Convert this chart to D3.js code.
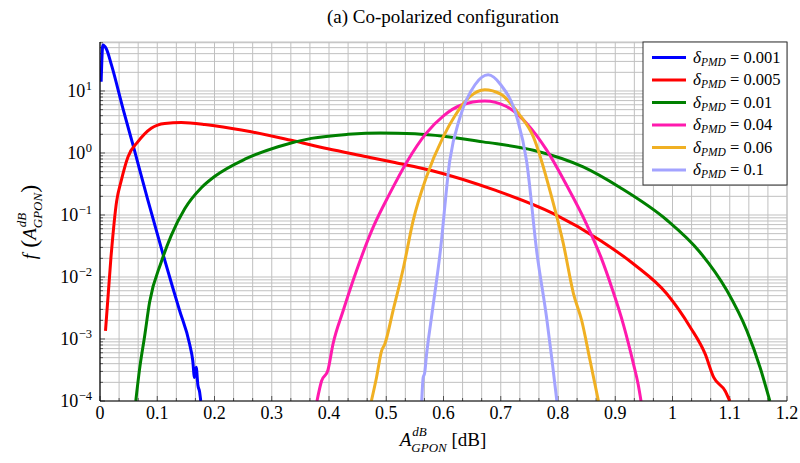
<!DOCTYPE html>
<html>
<head>
<meta charset="UTF-8">
<script src="https://d3js.org/d3.v7.min.js"></script>
<style>
  body { margin: 0; background: #fff; }
</style>
</head>
<body>
<svg id="chart" width="800" height="463" font-family="'Liberation Serif', 'Times New Roman', serif"></svg>
<script>
// values (x in dB, f on a log axis)
const deltas = ["0.001", "0.005", "0.01", "0.04", "0.06", "0.1"];
const colors = ["#0000ff", "#ff0000", "#008000", "#ff1aae", "#f0b023", "#a3a3ff"];

const blue = [[0.002,14.1],[0.005,55],[0.011,47.9],[0.02,26.3],[0.04,5.25],[0.06,1.12],[0.0836,0.174],
  [0.11,0.0234],[0.127,0.00676],[0.139,0.00288],[0.1565,8.3e-4],[0.162,4.5e-4],[0.165,2.4e-4],
  [0.168,3.5e-4],[0.171,1.8e-4],[0.174,1.4e-4],[0.176,1e-4]];
const red = [[0.0096,1.35e-3],[0.019,0.02],[0.029,0.166],[0.037,0.355],[0.049,0.87],[0.066,1.51],
  [0.0895,2.51],[0.113,3.0],[0.142,3.09],[0.183,2.88],[0.2,2.75],[0.264,2.2],[0.334,1.6],[0.398,1.17],
  [0.466,0.87],[0.515,0.70],[0.582,0.513],[0.69,0.251],[0.792,0.105],[0.874,0.0389],[0.932,0.0162],
  [0.99,0.00537],[1.031,0.00155],[1.057,5.75e-4],[1.072,2.4e-4],[1.092,1.45e-4],[1.1,1e-4]];
const green = [[0.0625,1e-4],[0.069,3.2e-4],[0.078,1.12e-3],[0.0866,3.9e-3],[0.107,0.0174],[0.1245,0.0468],
  [0.148,0.126],[0.177,0.275],[0.2,0.417],[0.253,0.794],[0.311,1.26],[0.369,1.72],[0.433,2.0],[0.49,2.11],
  [0.55,2.04],[0.6,1.86],[0.669,1.51],[0.757,1.11],[0.844,0.596],[0.909,0.275],[0.99,0.083],
  [1.048,0.0251],[1.095,0.00603],[1.13,0.00135],[1.153,3.47e-4],[1.17,1e-4]];
const pink = [[0.379,1e-4],[0.387,2.1e-4],[0.398,3.1e-4],[0.407,8.3e-4],[0.425,2.9e-3],[0.448,0.0126],
  [0.477,0.063],[0.506,0.221],[0.536,0.718],[0.57,2.09],[0.6,3.98],[0.63,5.89],[0.672,6.92],[0.71,5.62],
  [0.745,3.02],[0.78,1.12],[0.815,0.302],[0.85,0.0708],[0.875,0.0209],[0.895,0.0063],[0.914,1.74e-3],
  [0.932,3.9e-4],[0.94,1.86e-4],[0.945,1e-4]];
const orange = [[0.474,1e-4],[0.483,2.4e-4],[0.492,6.5e-4],[0.4975,8.3e-4],[0.512,2.9e-3],[0.53,0.0141],
  [0.547,0.0813],[0.57,0.407],[0.5995,1.82],[0.62,3.98],[0.646,8.1],[0.672,10.5],[0.7,8.9],[0.73,4.47],
  [0.757,1.82],[0.79,0.178],[0.809,0.0355],[0.827,5.4e-3],[0.8416,1.95e-3],[0.856,4.5e-4],[0.8706,1e-4]];
const lavender = [[0.562,1e-4],[0.5645,2.4e-4],[0.567,2.8e-4],[0.5705,5.75e-4],[0.579,2.24e-3],[0.594,0.024],
  [0.611,0.759],[0.629,3.8],[0.655,12.6],[0.678,18.2],[0.7,12.6],[0.728,3.8],[0.745,0.759],[0.763,0.0251],
  [0.78,2.24e-3],[0.789,5e-4],[0.798,1e-4]];
const series = [blue, red, green, pink, orange, lavender];

const xTicks = [0, 0.1, 0.2, 0.3, 0.4, 0.5, 0.6, 0.7, 0.8, 0.9, 1, 1.1, 1.2];
const yDecades = [-4, -3, -2, -1, 0, 1];

const pLeft = 100, pRight = 787, pTop = 42, pBottom = 401;
const svg = d3.select("#chart");

const x = d3.scaleLinear().domain([0, 1.2]).range([pLeft, pRight]);
const y = d3.scaleLog().domain([1e-4, Math.pow(10, 1.79)]).range([pBottom, pTop]);

// grid
const grid = svg.append("g").attr("stroke", "#c0c0c0").attr("stroke-width", 1);
const xMinor = d3.range(0, 37).map(i => i / 30);
grid.selectAll(".gx").data(xMinor).enter().append("line")
  .attr("x1", d => x(d)).attr("x2", d => x(d)).attr("y1", pTop).attr("y2", pBottom);
const yMinor = y.ticks().filter(d => d <= y.domain()[1]);
grid.selectAll(".gy").data(yMinor).enter().append("line")
  .attr("x1", pLeft).attr("x2", pRight).attr("y1", d => y(d)).attr("y2", d => y(d));
// frame top/right
grid.append("line").attr("x1", pLeft).attr("x2", pRight).attr("y1", pTop).attr("y2", pTop);
grid.append("line").attr("x1", pRight).attr("x2", pRight).attr("y1", pTop).attr("y2", pBottom);

// small inward ticks
const tk = svg.append("g").attr("stroke", "#333").attr("stroke-width", 0.8);
tk.selectAll(".tx").data(xMinor).enter().append("line")
  .attr("x1", d => x(d)).attr("x2", d => x(d)).attr("y1", pBottom)
  .attr("y2", (d, i) => pBottom - (i % 3 === 0 ? 5 : 3));
tk.selectAll(".ty").data(yMinor).enter().append("line")
  .attr("y1", d => y(d)).attr("y2", d => y(d)).attr("x1", pLeft)
  .attr("x2", d => pLeft + (Math.abs(Math.log10(d) - Math.round(Math.log10(d))) < 1e-6 ? 5 : 3));

// curves
svg.append("clipPath").attr("id", "clip").append("rect")
  .attr("x", pLeft).attr("y", pTop).attr("width", pRight - pLeft).attr("height", pBottom - pTop);
const line = d3.line().x(d => x(d[0])).y(d => y(d[1])).curve(d3.curveMonotoneX);
svg.append("g").attr("clip-path", "url(#clip)")
  .selectAll("path").data(series).enter().append("path")
  .attr("d", line).attr("fill", "none")
  .attr("stroke", (d, i) => colors[i]).attr("stroke-width", 3)
  .attr("stroke-linejoin", "round");

// axis lines
svg.append("line").attr("x1", pLeft).attr("x2", pLeft).attr("y1", pTop).attr("y2", pBottom)
  .attr("stroke", "#000").attr("stroke-width", 1.2);
svg.append("line").attr("x1", pLeft).attr("x2", pRight).attr("y1", pBottom).attr("y2", pBottom)
  .attr("stroke", "#000").attr("stroke-width", 1.2);

// text pieces placed one after another; stack=true puts a piece under the previous one
function rich(g, pieces) {
  let cx = 0, start = 0;
  pieces.forEach(p => {
    const px = (p.stack ? start : cx) + (p.dx || 0);
    const t = g.append("text").attr("x", px).attr("y", p.dy || 0)
      .attr("font-size", p.size).attr("font-style", p.italic ? "italic" : "normal")
      .style("white-space", "pre").text(p.text);
    const w = t.node().getComputedTextLength();
    if (p.stack) { cx = Math.max(cx, px + w); }
    else { start = px; cx = px + w; }
  });
  return cx;
}

// x tick labels
xTicks.forEach(v => {
  svg.append("text").attr("x", x(v)).attr("y", pBottom + 18).attr("text-anchor", "middle")
    .attr("font-size", 18).text(d3.format("~g")(v));
});

// y tick labels
yDecades.forEach(e => {
  const g = svg.append("g");
  const w = rich(g, [
    { text: "10", size: 18 },
    { text: (e < 0 ? "\u2212" : "") + Math.abs(e), size: 12.5, dy: -7, dx: 0.5 }
  ]);
  g.attr("transform", `translate(${pLeft - 8 - w},${y(Math.pow(10, e)) + 6})`);
});

// title
svg.append("text").attr("x", 443).attr("y", 23).attr("text-anchor", "middle")
  .attr("font-size", 19).text("(a) Co-polarized configuration");

// x label
const xl = svg.append("g");
const xlw = rich(xl, [
  { text: "A", size: 19, italic: true },
  { text: "dB", size: 13, italic: true, dy: -10, dx: 1 },
  { text: "GPON", size: 13, italic: true, dy: 6, stack: true, dx: -1 },
  { text: " [dB]", size: 19 }
]);
xl.attr("transform", `translate(${443 - xlw / 2},446)`);

// y label
const yl = svg.append("g");
const ylw = rich(yl, [
  { text: "f", size: 19, italic: true },
  { text: " (", size: 24, dy: 1 },
  { text: "A", size: 19, italic: true },
  { text: "dB", size: 13, italic: true, dy: -10, dx: 1 },
  { text: "GPON", size: 13, italic: true, dy: 6, stack: true, dx: -1 },
  { text: ")", size: 24, dy: 1 }
]);
yl.attr("transform", `translate(36,${222 + ylw / 2}) rotate(-90)`);

// legend
const lg = svg.append("g");
lg.append("rect").attr("x", 643).attr("y", 42).attr("width", 144).attr("height", 143)
  .attr("fill", "#fff").attr("stroke", "#333").attr("stroke-width", 1);
deltas.forEach((d, i) => {
  const ly = 57.5 + i * 22.5;
  lg.append("line").attr("x1", 652).attr("x2", 686).attr("y1", ly).attr("y2", ly)
    .attr("stroke", colors[i]).attr("stroke-width", 3);
  const g = lg.append("g").attr("transform", `translate(693,${ly + 5})`);
  rich(g, [
    { text: "\u03b4", size: 17, italic: true },
    { text: "PMD", size: 11.5, italic: true, dy: 3 },
    { text: " = " + d, size: 16.5 }
  ]);
});
</script>
</body>
</html>
